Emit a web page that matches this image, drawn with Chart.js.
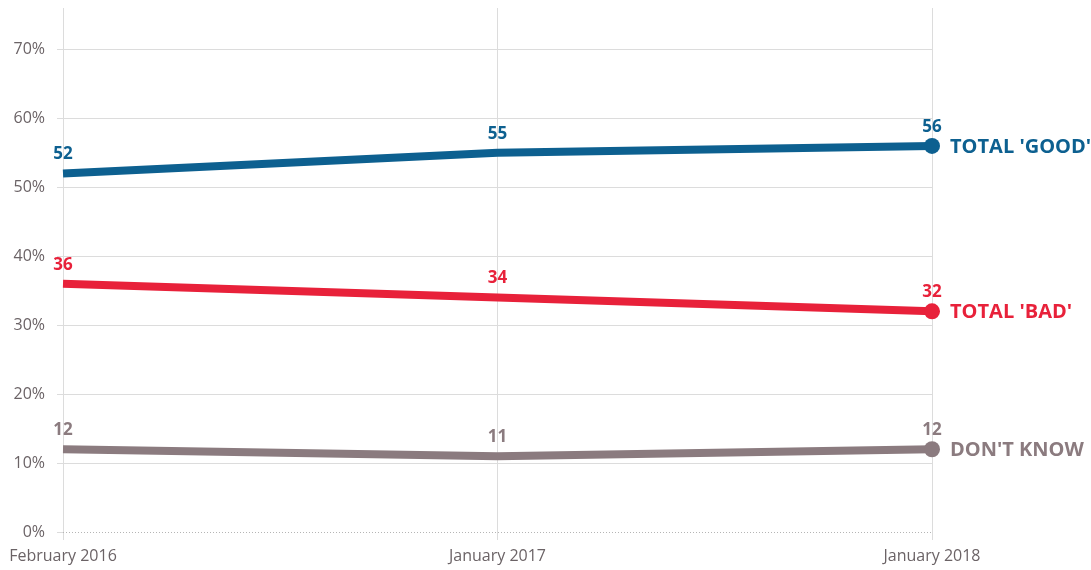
<!DOCTYPE html>
<html lang="en">
<head>
  <meta charset="UTF-8">
  <title>Good / Bad / Don't know</title>
  <style>
    body { margin: 0; background: #fff; }
    #wrap { width: 1091px; height: 570px; }
  </style>
</head>
<body>
<div id="wrap">
  <canvas id="lineChart"></canvas>
</div>
<script src="https://cdn.jsdelivr.net/npm/chart.js"></script>
<script>
  const periods = ['February 2016', 'January 2017', 'January 2018'];
  const goodValues = [52, 55, 56];
  const badValues = [36, 34, 32];
  const dontKnowValues = [12, 11, 12];
  const seriesNames = ["TOTAL 'GOOD'", "TOTAL 'BAD'", "DON'T KNOW"];
  const yTicks = [0, 10, 20, 30, 40, 50, 60, 70];

  const BLUE = '#0d6090';
  const RED = '#e8213a';
  const GREY = '#8b7b7f';
  const GRID = '#dcdcdc';
  const TEXT = '#6b6366';
  const FONT = "'Open Sans', sans-serif";

  // value labels above each point + series name after the last point
  const labelPlugin = {
    id: 'labels',
    afterDatasetsDraw(chart) {
      const ctx = chart.ctx;
      ctx.save();
      chart.data.datasets.forEach((ds, i) => {
        const meta = chart.getDatasetMeta(i);
        ctx.fillStyle = ds.borderColor;
        ctx.font = 'bold 17px ' + FONT;
        ctx.textAlign = 'center';
        ctx.textBaseline = 'middle';
        meta.data.forEach((pt, j) => {
          ctx.fillText(ds.data[j], pt.x, pt.y - 19);
        });
        const last = meta.data[meta.data.length - 1];
        ctx.font = 'bold 20px ' + FONT;
        ctx.textAlign = 'left';
        ctx.fillText(ds.label, last.x + 18, last.y + 1);
      });
      ctx.restore();
    }
  };

  // dotted baseline at 0%
  const baselinePlugin = {
    id: 'baseline',
    beforeDatasetsDraw(chart) {
      const y = chart.scales.y.getPixelForValue(0);
      const a = chart.chartArea;
      const ctx = chart.ctx;
      ctx.save();
      ctx.strokeStyle = '#b5b5b5';
      ctx.lineWidth = 1;
      ctx.setLineDash([1, 2]);
      ctx.beginPath();
      ctx.moveTo(a.left, Math.round(y) + 0.5);
      ctx.lineTo(a.right, Math.round(y) + 0.5);
      ctx.stroke();
      ctx.restore();
    }
  };

  function makeSet(label, data, color) {
    return {
      label: label,
      data: data,
      borderColor: color,
      backgroundColor: color,
      borderWidth: 8,
      tension: 0,
      pointRadius: [0, 0, 8],
      pointHoverRadius: [0, 0, 8],
      pointBorderWidth: 0,
      borderCapStyle: 'butt'
    };
  }

  const ctx = document.getElementById('lineChart').getContext('2d');
  const chart = new Chart(ctx, {
    type: 'line',
    data: {
      labels: periods,
      datasets: [
        makeSet(seriesNames[0], goodValues, BLUE),
        makeSet(seriesNames[1], badValues, RED),
        makeSet(seriesNames[2], dontKnowValues, GREY)
      ]
    },
    options: {
      responsive: true,
      maintainAspectRatio: false,
      animation: false,
      layout: { padding: { top: 8, right: 159, bottom: 0, left: 0 } },
      plugins: {
        legend: { display: false },
        tooltip: { enabled: false }
      },
      scales: {
        x: {
          offset: false,
          afterFit: (scale) => {
            scale.height = 38;
            scale.paddingLeft = 0;
            scale.paddingRight = 0;
          },
          grid: { color: GRID, tickLength: 8, tickColor: GRID },
          border: { display: false },
          ticks: { color: TEXT, font: { family: FONT, size: 16 }, padding: 7, maxRotation: 0 }
        },
        y: {
          min: 0,
          max: 76,
          afterBuildTicks: (scale) => { scale.ticks = yTicks.map(v => ({ value: v })); },
          afterFit: (scale) => {
            scale.width = 63;
            scale.paddingTop = 0;
            scale.paddingBottom = 0;
          },
          grid: {
            color: (c) => (c.tick && c.tick.value === 0 ? 'rgba(0,0,0,0)' : GRID),
            tickColor: GRID,
            tickLength: 6
          },
          border: { display: false },
          ticks: {
            color: TEXT,
            font: { family: FONT, size: 16 },
            padding: 12,
            callback: (v) => v + '%'
          }
        }
      }
    },
    plugins: [baselinePlugin, labelPlugin]
  });
</script>
</body>
</html>
